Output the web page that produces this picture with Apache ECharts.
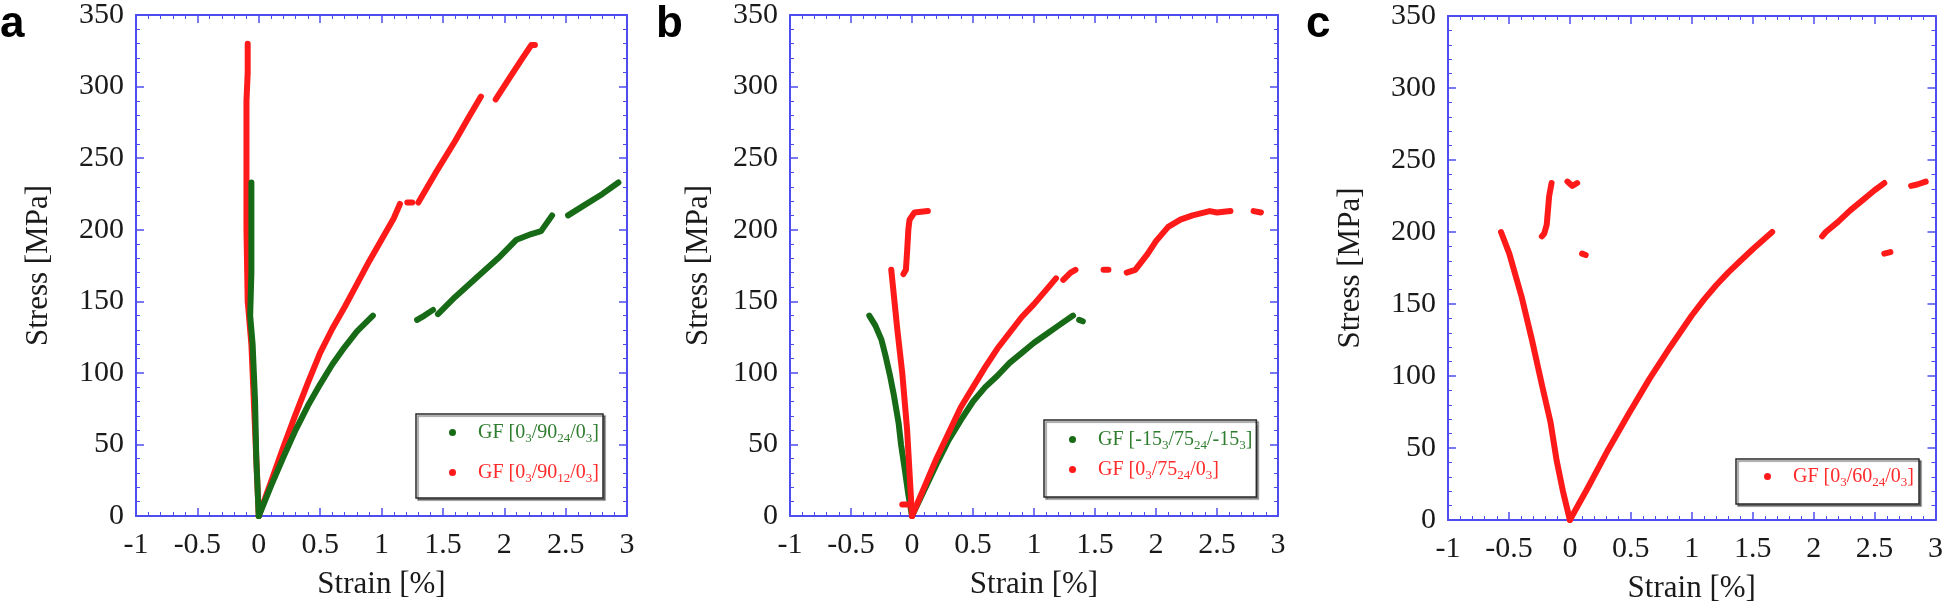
<!DOCTYPE html>
<html><head><meta charset="utf-8">
<script src="https://cdn.jsdelivr.net/npm/echarts@6/dist/echarts.min.js"></script>
<style>html,body{margin:0;padding:0;background:#fff}#chart{width:1946px;height:613px}</style>
</head><body><div id="chart"></div>
<script>
// ---- tick labels / texts ----
const xTicks = [-1, -0.5, 0, 0.5, 1, 1.5, 2, 2.5, 3];
const yTicks = [0, 50, 100, 150, 200, 250, 300, 350];
const panelLabels = ['a', 'b', 'c'];
const xTitle = 'Strain [%]';
const yTitle = 'Stress [MPa]';
const namesA = ['GF [0_3/90_24/0_3]', 'GF [0_3/90_12/0_3]'];
const namesB = ['GF [-15_3/75_24/-15_3]', 'GF [0_3/75_24/0_3]'];
const namesC = ['GF [0_3/60_24/0_3]'];

// ---- panel a data [strain %, stress MPa] ----
const aGreenLeft = [[0,0],[-0.02,40],[-0.03,80],[-0.05,120],[-0.07,140],[-0.06,170],[-0.06,200],[-0.06,233]];
const aGreenRight1 = [[0,0],[0.1,21],[0.2,41],[0.3,60],[0.4,77],[0.5,92],[0.6,106],[0.7,118],[0.8,129],[0.93,140]];
const aGreenRight2 = [[1.29,137],[1.35,140],[1.42,144]];
const aGreenRight3 = [[1.46,141],[1.6,153],[1.78,167],[1.95,180],[2.1,193],[2.22,197],[2.3,199],[2.39,210]];
const aGreenRight4 = [[2.52,210],[2.65,217],[2.8,225],[2.93,233]];
const aRedLeft = [[0,0],[-0.02,40],[-0.04,80],[-0.06,120],[-0.09,150],[-0.1,200],[-0.1,250],[-0.1,290],[-0.09,310],[-0.09,330]];
const aRedRight1 = [[0,0],[0.1,24],[0.2,48],[0.3,71],[0.4,93],[0.5,114],[0.6,131],[0.7,146],[0.8,162],[0.9,178],[1.0,193],[1.1,208],[1.15,218]];
const aRedRight2 = [[1.21,219],[1.25,219]];
const aRedRight3 = [[1.3,219],[1.45,241],[1.6,262],[1.7,277],[1.81,293]];
const aRedRight4 = [[1.93,291],[2.05,307],[2.15,320],[2.22,329],[2.25,329]];

// ---- panel b data ----
const bGreenLeft = [[0,0],[-0.03,15],[-0.06,33],[-0.09,50],[-0.11,65],[-0.15,85],[-0.18,98],[-0.22,113],[-0.25,123],[-0.3,133],[-0.35,140]];
const bGreenRight1 = [[0,0],[0.1,18],[0.2,36],[0.3,53],[0.4,67],[0.5,80],[0.6,90],[0.7,98],[0.8,107],[0.9,114],[1.0,121],[1.1,127],[1.2,133],[1.32,140]];
const bGreenRight2 = [[1.37,137],[1.4,136]];
const bRedLeft = [[0,0],[-0.04,60],[-0.08,100],[-0.12,130],[-0.17,172]];
const bRedLow = [[-0.08,8],[-0.03,8]];
const bRedUpper = [[-0.07,169],[-0.05,172],[-0.04,185],[-0.03,200],[-0.02,207],[0.02,212],[0.13,213]];
const bRedRight1 = [[0,0],[0.1,20],[0.2,40],[0.3,58],[0.4,76],[0.5,90],[0.6,104],[0.7,117],[0.8,128],[0.9,139],[1.0,148],[1.1,158],[1.18,166]];
const bRedRight2 = [[1.24,165],[1.3,170],[1.34,172]];
const bRedRight3 = [[1.57,172],[1.61,172]];
const bRedRight4 = [[1.76,170],[1.83,172],[1.93,183],[2.0,192],[2.1,202],[2.2,207],[2.3,210],[2.44,213],[2.5,212],[2.61,213]];
const bRedRight5 = [[2.8,213],[2.86,212]];

// ---- panel c data ----
const cRedLeft = [[0,0],[-0.057,20],[-0.108,41],[-0.159,68],[-0.227,93],[-0.311,125],[-0.396,155],[-0.497,185],[-0.565,200]];
const cRedRight = [[0,0],[0.145,22],[0.315,49],[0.484,74],[0.653,98],[0.822,120],[1.0,142],[1.1,153],[1.2,163],[1.3,172],[1.4,180],[1.5,188],[1.66,200]];
const cRed2 = [[-0.23,197],[-0.21,199],[-0.19,205],[-0.18,215],[-0.17,225],[-0.15,234]];
const cRed3 = [[-0.02,235],[0.02,232],[0.06,234]];
const cRed4 = [[0.1,185],[0.13,184]];
const cRed5 = [[2.07,197],[2.1,200],[2.2,207],[2.3,215],[2.4,222],[2.5,229],[2.58,234]];
const cRed6 = [[2.58,185],[2.63,186]];
const cRed7 = [[2.8,232],[2.85,233],[2.92,235]];

// ---- styling ----
const GREEN = '#176b17', GREEN_TXT = '#2e7d2e', RED = '#ff1a1a', RED_TXT = '#ff2a2a';
const BLUE = '#4d4df0';
const SERIF = "'Liberation Serif', 'DejaVu Serif', 'Times New Roman', serif";
const grids = [
  {left: 136, top: 15, width: 491, height: 501},
  {left: 790, top: 15, width: 488, height: 501},
  {left: 1448, top: 16, width: 488, height: 504}
];
const yNameGaps = [80, 74, 80];
const axisTxt = {t: {fontFamily: SERIF, fontSize: 30, lineHeight: 34, color: '#1a1a1a'}};
const nameTxt = {n: {fontFamily: SERIF, fontSize: 31, lineHeight: 34, color: '#1a1a1a'}};

const xAxes = [], yAxes = [];
grids.forEach((g, gi) => {
  const lineC = {show: true, onZero: false, lineStyle: {color: BLUE, width: 2}};
  const tickC = {show: true, inside: true, length: 8, lineStyle: {color: BLUE, width: 1.5}};
  const minorC = {show: true, splitNumber: 5, length: 4, lineStyle: {color: BLUE, width: 1}};
  const xc = {type: 'value', gridIndex: gi, min: xTicks[0], max: xTicks[xTicks.length - 1], interval: xTicks[1] - xTicks[0],
    splitLine: {show: false}, axisLine: lineC, axisTick: tickC, minorTick: minorC};
  const yc = {type: 'value', gridIndex: gi, min: yTicks[0], max: yTicks[yTicks.length - 1], interval: yTicks[1] - yTicks[0],
    splitLine: {show: false}, axisLine: lineC, axisTick: tickC, minorTick: minorC};
  xAxes.push(Object.assign({}, xc, {position: 'bottom',
    axisLabel: {show: true, margin: 12, fontFamily: SERIF, fontSize: 30, rich: axisTxt,
      formatter: v => '{t|' + String(Math.round(v * 10) / 10) + '}'},
    name: '{n|' + xTitle + '}', nameLocation: 'middle', nameGap: 52, nameMoveOverlap: false,
    nameTextStyle: {fontFamily: SERIF, fontSize: 31, rich: nameTxt}}));
  xAxes.push(Object.assign({}, xc, {position: 'top', axisLabel: {show: false}}));
  yAxes.push(Object.assign({}, yc, {position: 'left',
    axisLabel: {show: true, margin: 12, fontFamily: SERIF, fontSize: 30, rich: axisTxt,
      formatter: v => '{t|' + String(v) + '}'},
    name: '{n|' + yTitle + '}', nameLocation: 'middle', nameGap: yNameGaps[gi], nameMoveOverlap: false,
    nameTextStyle: {fontFamily: SERIF, fontSize: 31, rich: nameTxt}}));
  yAxes.push(Object.assign({}, yc, {position: 'right', axisLabel: {show: false}}));
});

function segs(name, color, list, gi, z) {
  return list.map(d => ({
    type: 'line', name, data: d, xAxisIndex: gi * 2, yAxisIndex: gi * 2, color,
    symbol: 'none', showSymbol: false, silent: true, animation: false, z,
    lineStyle: {color, width: 6, cap: 'round', join: 'round'}, itemStyle: {color}
  }));
}

const series = [].concat(
  segs(namesA[1], RED, [aRedLeft, aRedRight1, aRedRight2, aRedRight3, aRedRight4], 0, 2),
  segs(namesA[0], GREEN, [aGreenLeft, aGreenRight1, aGreenRight2, aGreenRight3, aGreenRight4], 0, 3),
  segs(namesB[0], GREEN, [bGreenLeft, bGreenRight1, bGreenRight2], 1, 2),
  segs(namesB[1], RED, [bRedLeft, bRedLow, bRedUpper, bRedRight1, bRedRight2, bRedRight3, bRedRight4, bRedRight5], 1, 3),
  segs(namesC[0], RED, [cRedLeft, cRedRight, cRed2, cRed3, cRed4, cRed5, cRed6, cRed7], 2, 2)
);

const colorOf = {};
colorOf[namesA[0]] = 'g'; colorOf[namesA[1]] = 'r';
colorOf[namesB[0]] = 'g'; colorOf[namesB[1]] = 'r';
colorOf[namesC[0]] = 'r';
function fmt(name) {
  const c = colorOf[name];
  const parts = name.split(/_(\d+)/);
  return parts.map((p, i) => {
    if (p === '') return '';
    if (i % 2) return '{' + c + 's|' + p + '}';
    return '{' + c + (i === 0 ? '0' : '') + '|' + p + '}';
  }).join('');
}
const mainT = (col, lead) => ({fontFamily: SERIF, fontSize: 20, lineHeight: 26, color: col, padding: [0, 0, 0, lead]});
const subT = (col) => ({fontFamily: SERIF, fontSize: 13, lineHeight: 13, padding: [12, 0, 0, 0], color: col});
const rich = {
  g0: mainT(GREEN_TXT, 17), g: mainT(GREEN_TXT, 0), gs: subT(GREEN_TXT),
  r0: mainT(RED_TXT, 17), r: mainT(RED_TXT, 0), rs: subT(RED_TXT)
};
function legendBox(names, left, top, padding, gap) {
  return {
    orient: 'vertical', left, top, padding, itemGap: gap, itemWidth: 7, itemHeight: 7,
    icon: 'circle', selectedMode: false, formatter: fmt,
    textStyle: {fontFamily: SERIF, fontSize: 20, rich},
    data: names.map(n => ({name: n, icon: 'circle'})),
    backgroundColor: '#fff', borderColor: '#2a2a2a', borderWidth: 1.5,
    shadowColor: 'rgba(0,0,0,0.45)', shadowBlur: 1, shadowOffsetX: 2, shadowOffsetY: 2
  };
}
const legends = [
  legendBox(namesA, 416, 414, [6, 4, 13, 33], 15),
  legendBox(namesB, 1044, 420, [7, 4, 15, 25], 5),
  legendBox(namesC, 1736, 459, [5, 5, 15, 28], 3)
];

const labelLefts = [0, 656, 1306];
const titles = panelLabels.map((t, i) => ({
  text: t, left: labelLefts[i], top: 3, padding: 0,
  textStyle: {fontFamily: "'Liberation Sans', Arial, sans-serif", fontWeight: 'bold', fontSize: 44, lineHeight: 44, color: '#000'}
}));

const chart = echarts.init(document.getElementById('chart'), null, {renderer: 'canvas'});
chart.setOption({
  backgroundColor: '#ffffff',
  animation: false,
  textStyle: {fontFamily: SERIF},
  title: titles,
  grid: grids,
  xAxis: xAxes,
  yAxis: yAxes,
  legend: legends,
  tooltip: {show: false},
  series
});
</script></body></html>
